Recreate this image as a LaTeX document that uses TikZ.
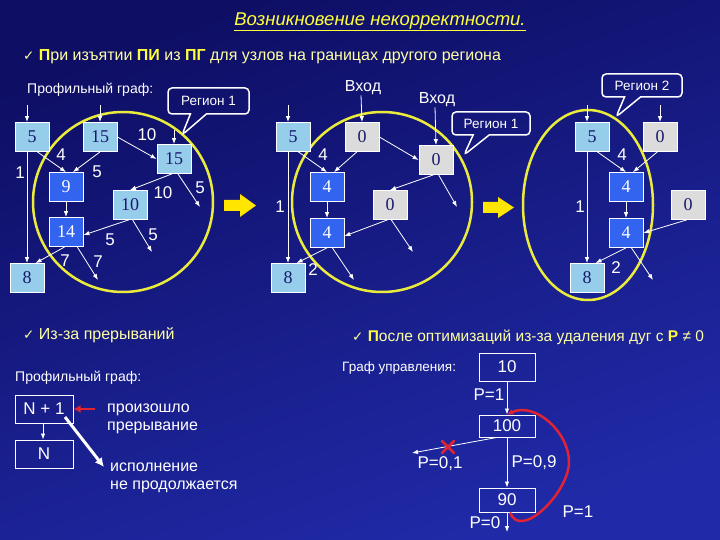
\documentclass[tikz,border=0pt]{standalone}
\usepackage{fontspec}
\setmainfont{Liberation Sans}
\newfontfamily\numfont{Liberation Serif}
\newfontfamily\symfont{DejaVu Sans}
\usetikzlibrary{arrows.meta,shapes.callouts}
\definecolor{bgtop}{RGB}{14,14,100}
\definecolor{bgbot}{RGB}{32,42,168}
\definecolor{boxlight}{RGB}{150,205,235}
\definecolor{boxdark}{RGB}{50,100,240}
\definecolor{boxgray}{RGB}{220,220,220}
\definecolor{boxtext}{RGB}{25,25,110}
\definecolor{ringyellow}{RGB}{235,235,60}
\definecolor{arrowyellow}{RGB}{255,230,0}
\definecolor{markred}{RGB}{225,35,50}
\definecolor{textyellow}{RGB}{255,255,165}
\definecolor{boldyellow}{RGB}{255,255,60}
\newcommand\checkmk{{\symfont\fontsize{13.5}{13.5}\selectfont ✓}}

\begin{document}
\begin{tikzpicture}[x=1pt,y=-1pt,
    lbox/.style={draw=white, line width=0.8pt, fill=boxlight, text=boxtext, minimum width=34pt, minimum height=29pt, inner sep=0pt, font=\numfont\fontsize{18}{18}\selectfont},
    dbox/.style={lbox, fill=boxdark, text=white},
    gbox/.style={lbox, fill=boxgray},
    lbl/.style={text=white, inner sep=0pt, font=\fontsize{17}{17}\selectfont},
    edge/.style={draw=white, line width=0.8pt, -{Latex[length=6pt,width=4.5pt]}},
    ring/.style={draw=ringyellow, line width=2.5pt},
    region/.style={rectangle callout, draw=white, line width=1.5pt, rounded corners=4pt, text=white, inner sep=0pt, minimum height=24pt, minimum width=79pt, callout pointer width=16pt, font=\fontsize{13.5}{14}\selectfont},
    wbox/.style={draw=white, line width=1pt, text=white, inner sep=0pt, minimum width=56pt, font=\fontsize{17}{17}\selectfont},
    note/.style={text=white, inner sep=0pt, anchor=west, align=left, font=\fontsize{14}{18}\selectfont},
    head/.style={text=textyellow, inner sep=0pt, anchor=west, font=\fontsize{16}{17}\selectfont},
    redline/.style={draw=markred, line width=2.5pt}]

    \useasboundingbox (0,0) rectangle (720,540);
    \shade[top color=bgtop, bottom color=bgbot, shading angle=20] (0,0) rectangle (720,540);

    \node[text=boldyellow, inner sep=0pt, font=\itshape\fontsize{18.5}{20}\selectfont] (title) at (380,22) {\underline{Возникновение некорректности.}};
    \node[head] (h1) at (23,57) {\checkmk\ {\color{boldyellow}\bfseries П}ри изъятии {\color{boldyellow}\bfseries ПИ} из {\color{boldyellow}\bfseries ПГ} для узлов на границах другого региона};

    % regions
    \draw[ring] (123,202) ellipse [x radius=90pt, y radius=90pt];
    \draw[ring] (382,202) ellipse [x radius=90pt, y radius=90pt];
    \draw[ring] (588,205) ellipse [x radius=65pt, y radius=95pt];

    \fill[arrowyellow] (224,200) -- (240,200) -- (240,194) -- (256,205.5) -- (240,217) -- (240,211) -- (224,211) -- cycle;
    \fill[arrowyellow] (483,202) -- (498,202) -- (498,197) -- (514,207.5) -- (498,218) -- (498,213) -- (483,213) -- cycle;

    % profile graph
    \node[note, font=\fontsize{14}{14}\selectfont] (pg1) at (27,90) {Профильный граф:};
    \node[region, minimum width=81pt, minimum height=26pt, callout absolute pointer={(182,135)}] (r1) at (208.5,101) {Регион 1};
    \node[lbox] (a) at (32,137) {5};
    \node[lbox] (b) at (100,137) {15};
    \node[dbox] (c) at (66,187) {9};
    \node[lbox] (d) at (174,159) {15};
    \node[lbox] (e) at (130,205) {10};
    \node[dbox] (f) at (66,232) {14};
    \node[lbox] (g) at (27,278) {8};
    \coordinate (ia) at (27,105);
    \coordinate (ib) at (100,105);
    \coordinate (id) at (174,130);
    \coordinate (o1) at (200,207);
    \coordinate (o2) at (152,252);
    \coordinate (o3) at (98,280);
    \draw[edge] (ia) -- ([xshift=-5pt]a.north);
    \draw[edge] (ib) -- (b.north);
    \draw[edge] (id) -- (d.north);
    \draw[edge] (a.-70) -- (c.north);
    \draw[edge] (b.south) -- (c.65);
    \draw[edge] (b.east) -- (d.west);
    \draw[edge] ([xshift=-5pt]a.south) -- (g.north);
    \draw[edge] (c.south) -- (f.north);
    \draw[edge] (d.-98) -- (e.north);
    \draw[edge] (d.-75) -- (o1);
    \draw[edge] (e.-95) -- (f.-10);
    \draw[edge] (e.-80) -- (o2);
    \draw[edge] (f.-95) -- (g.60);
    \draw[edge] (f.-53) -- (o3);
    \node[lbl] (w1) at (61,155) {4};
    \node[lbl] (w2) at (97,172) {5};
    \node[lbl] (w3) at (147,135) {10};
    \node[lbl] (w4) at (20,173) {1};
    \node[lbl] (w5) at (163,193) {10};
    \node[lbl] (w6) at (200,188) {5};
    \node[lbl] (w7) at (110,240) {5};
    \node[lbl] (w8) at (153,235) {5};
    \node[lbl] (w9) at (65,261) {7};
    \node[lbl] (w10) at (98,262) {7};

    % second graph
    \node[lbl, font=\fontsize{16}{16}\selectfont] (vh1) at (363,88) {Вход};
    \node[lbl, font=\fontsize{16}{16}\selectfont] (vh2) at (437,100) {Вход};
    \node[region, minimum width=78pt, minimum height=23pt, callout absolute pointer={(464,155)}] (r2) at (491,123.5) {Регион 1};
    \node[lbox] (a2) at (293,137) {5};
    \node[gbox] (b2) at (362,137) {0};
    \node[dbox] (c2) at (327,187) {4};
    \node[gbox] (d2) at (436,160) {0};
    \node[gbox] (e2) at (390,205) {0};
    \node[dbox] (f2) at (327,233) {4};
    \node[lbox] (g2) at (288,278) {8};
    \coordinate (ia2) at (288,105);
    \coordinate (o4) at (457,207);
    \coordinate (o5) at (413,252);
    \coordinate (o6) at (354,280);
    \draw[edge] (ia2) -- ([xshift=-5pt]a2.north);
    \draw[edge] ([xshift=-2pt]vh1.south) -- (b2.north);
    \draw[edge] ([xshift=-2pt]vh2.south) -- (d2.north);
    \draw[edge] (a2.-70) -- (c2.north);
    \draw[edge] (b2.-109) -- (c2.65);
    \draw[edge] (b2.east) -- (d2.west);
    \draw[edge] ([xshift=-5pt]a2.south) -- (g2.north);
    \draw[edge] (c2.south) -- (f2.north);
    \draw[edge] (d2.-100) -- (e2.north);
    \draw[edge] (d2.-80) -- (o4);
    \draw[edge] (e2.-100) -- (f2.-10);
    \draw[edge] (e2.-85) -- (o5);
    \draw[edge] (f2.south) -- (g2.60);
    \draw[edge] (f2.-70) -- (o6);
    \node[lbl] (w11) at (323,155) {4};
    \node[lbl] (w12) at (280,207) {1};
    \node[lbl] (w13) at (313,270) {2};

    % third graph
    \node[region, minimum width=80pt, minimum height=23pt, callout absolute pointer={(616,117)}] (r3) at (642,85.5) {Регион 2};
    \node[lbox] (a3) at (592,137) {5};
    \node[gbox] (b3) at (660,137) {0};
    \node[dbox] (c3) at (626,187) {4};
    \node[gbox] (e3) at (688,205) {0};
    \node[dbox] (f3) at (626,233) {4};
    \node[lbox] (g3) at (587,278) {8};
    \coordinate (ia3) at (587,105);
    \coordinate (ib3) at (660,105);
    \coordinate (o7) at (653,280);
    \draw[edge] (ia3) -- ([xshift=-5pt]a3.north);
    \draw[edge] (ib3) -- (b3.north);
    \draw[edge] (a3.-70) -- (c3.north);
    \draw[edge] (b3.-100) -- (c3.65);
    \draw[edge] (c3.south) -- (f3.north);
    \draw[edge] (e3.-95) -- (f3.east);
    \draw[edge] ([xshift=-5pt]a3.south) -- (g3.north);
    \draw[edge] (f3.south) -- (g3.60);
    \draw[edge] (f3.-70) -- (o7);
    \node[lbl] (w14) at (622,155) {4};
    \node[lbl] (w15) at (580,207) {1};
    \node[lbl] (w16) at (616,268) {2};

    % interrupts
    \node[head] (h2) at (23,335) {\checkmk\ Из-за прерываний};
    \node[note, font=\fontsize{14}{14}\selectfont] (pg2) at (15,378) {Профильный граф:};
    \node[wbox, minimum width=58pt, minimum height=28pt] (n1) at (44,409) {N + 1};
    \node[wbox, minimum width=58pt, minimum height=28pt] (n0) at (44,454) {N};
    \node[note, font=\fontsize{16}{18}\selectfont] (t1) at (107,419) {произошло\\прерывание};
    \node[note, font=\fontsize{16}{18}\selectfont] (t2) at (110,478) {исполнение\\не продолжается};
    \coordinate (rs) at (95,409);
    \coordinate (tp) at (104,467);
    \draw[edge] ([xshift=-1pt]n1.south) -- ([xshift=-1pt]n0.north);
    \draw[redline, -{Latex[length=7pt,width=8pt]}] (rs) -- (n1.east);
    \draw[draw=white, line width=3pt, -{Latex[length=9pt,width=9pt]}] ([xshift=21pt,yshift=-8pt]n1.center) -- (tp);

    % control graph
    \node[head, font=\fontsize{15.5}{16}\selectfont] (h3) at (352,337) {\checkmk\ {\color{boldyellow}\bfseries П}осле оптимизаций из-за удаления дуг с {\color{boldyellow}\bfseries P} ≠ 0};
    \node[note, font=\fontsize{13.5}{14}\selectfont] (gu) at (342,368) {Граф управления:};
    \node[wbox, minimum height=28pt] (k10) at (507,367) {10};
    \node[wbox, minimum height=22pt] (k100) at (507,426) {100};
    \node[wbox, minimum height=24pt] (k90) at (507,500) {90};
    \coordinate (ox) at (412,453);
    \coordinate (od) at (507,532);
    \coordinate (xm) at (448,447);
    \coordinate (lp) at (569,462);
    \draw[edge] (k10.south) -- (k100.north);
    \draw[edge] (k100.south) -- (k90.north);
    \draw[edge] (k100.-132) -- (ox);
    \draw[edge] (k90.south) -- (od);
    \draw[redline, line cap=round] (xm) ++(-6,-6) -- ++(12,12) (xm) ++(-6,6) -- ++(12,-12);
    \draw[redline, -{Latex[length=6pt,width=6pt]}] (k90.-76) to[out=-70, in=-90] (lp) to[out=90, in=25] (k100.north);
    \node[lbl] (p1) at (489,395) {P=1};
    \node[lbl] (p2) at (534,463) {P=0,9};
    \node[lbl] (p3) at (440,464) {P=0,1};
    \node[lbl] (p4) at (485,523) {P=0};
    \node[lbl] (p5) at (578,512) {P=1};
\end{tikzpicture}
\end{document}
